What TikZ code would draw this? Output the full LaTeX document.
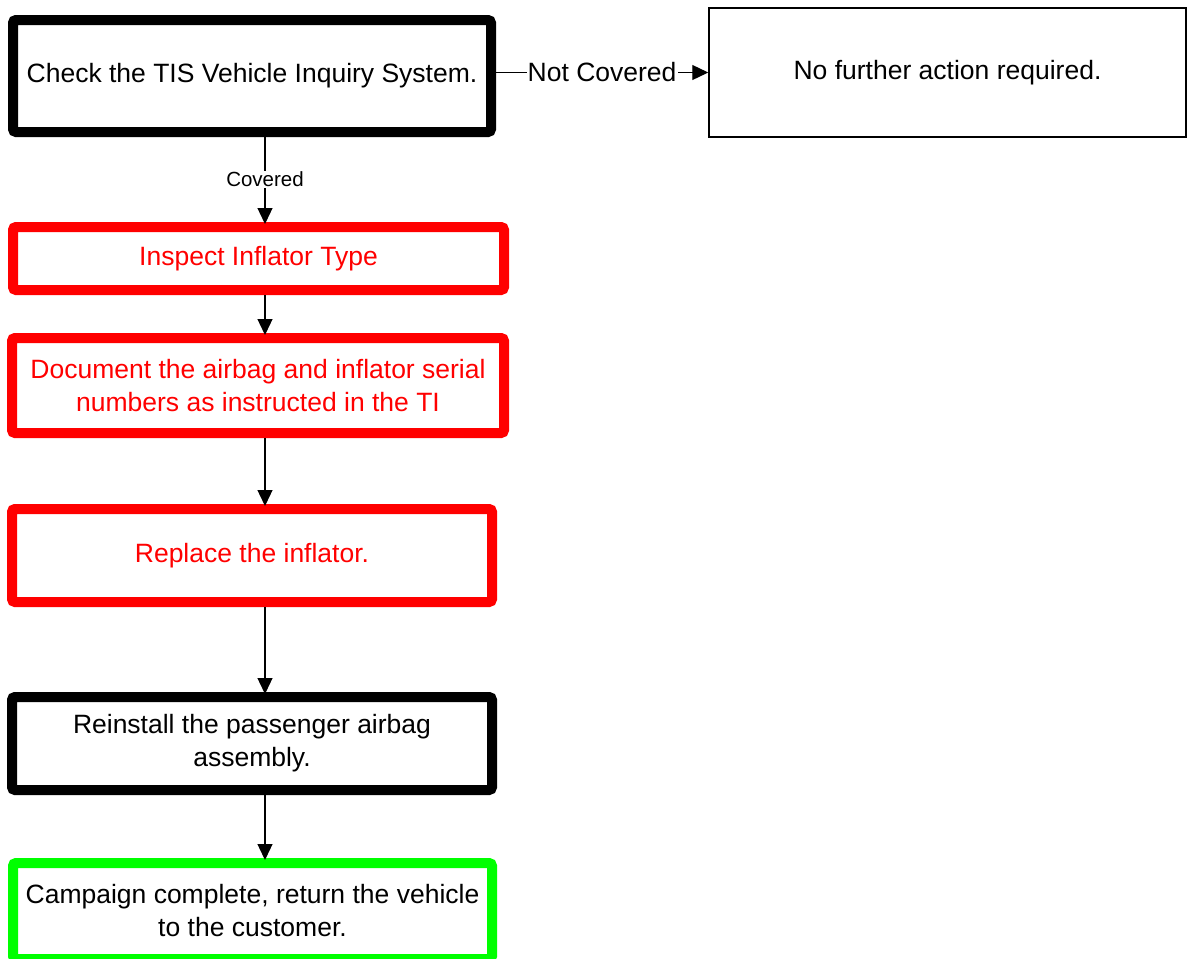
\documentclass[tikz,border=0pt]{standalone}
\usepackage{fontspec}
\setmainfont{Liberation Sans}
\usetikzlibrary{arrows.meta}
\definecolor{pred}{RGB}{255,0,0}
\definecolor{pgreen}{RGB}{0,255,0}
\begin{document}
\begin{tikzpicture}[x=1pt,y=-1pt,
  thickbox/.style={draw=#1, line width=10pt, rounded corners=3pt, inner sep=0pt, align=center, font=\fontsize{26.5}{33}\selectfont},
  thinbox/.style={draw=black, line width=1.5pt, inner sep=0pt, align=center, font=\fontsize{26.5}{33}\selectfont},
  arr/.style={draw=black, line width=1.3pt, -{Triangle[length=16pt,width=15pt]}, shorten >=-2pt},
  lbl/.style={fill=white, inner sep=1pt}
]
\useasboundingbox (0,0) rectangle (1195,959);
\fill[white] (0,0) rectangle (1195,959);
\begin{scope}
\clip (0,0) rectangle (1195,959);
\node[thickbox=black, minimum width=478pt, minimum height=112pt] (b1) at (252,76) {Check the TIS Vehicle Inquiry System.};
\node[thinbox, minimum width=477pt, minimum height=129pt] (nf) at (947.5,72.5) {No further action required.};
\node[thickbox=pred, text=pred, minimum width=491pt, minimum height=63pt] (b2) at (258.5,258.5) {Inspect Inflator Type};
\node[thickbox=pred, text=pred, minimum width=492pt, minimum height=95pt] (b3) at (258,385.5) {Document the airbag and inflator serial\\numbers as instructed in the TI};
\node[thickbox=pred, text=pred, minimum width=480pt, minimum height=93pt] (b4) at (252,555.5) {Replace the inflator.};
\node[thickbox=black, minimum width=480pt, minimum height=93pt] (b5) at (252,743.5) {Reinstall the passenger airbag\\assembly.};
\node[thickbox=pgreen, minimum width=479pt, minimum height=96pt] (b6) at (252.5,911) {Campaign complete, return the vehicle\\to the customer.};
\coordinate (colx) at (265,0);
\draw[arr, shorten >=0pt] (b1.east |- nf.west) -- node[lbl, font=\fontsize{26.5}{30}\selectfont] {Not Covered} (nf.west);
\draw[arr] (b1.south -| colx) -- node[lbl, font=\fontsize{20.5}{24}\selectfont] {Covered} (b2.north -| colx);
\draw[arr] (b2.south -| colx) -- (b3.north -| colx);
\draw[arr] (b3.south -| colx) -- (b4.north -| colx);
\draw[arr] (b4.south -| colx) -- (b5.north -| colx);
\draw[arr] (b5.south -| colx) -- (b6.north -| colx);
\end{scope}
\end{tikzpicture}
\end{document}
